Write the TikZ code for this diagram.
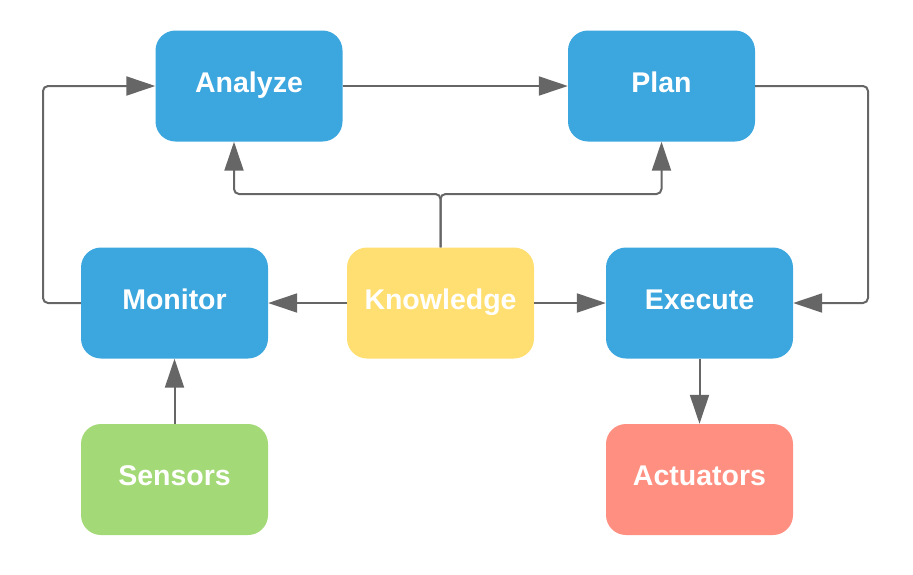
\documentclass[tikz,border=0pt]{standalone}
\usepackage{fontspec}
\setmainfont{Liberation Sans}
\usetikzlibrary{arrows.meta}
\definecolor{mapeblue}{HTML}{3CA6DE}
\definecolor{mapeyellow}{HTML}{FFDF71}
\definecolor{mapegreen}{HTML}{A3D977}
\definecolor{mapered}{HTML}{FF8F80}
\definecolor{linegray}{HTML}{666666}
\begin{document}
\begin{tikzpicture}[
    x=1pt, y=-1pt,
    box/.style={rectangle, rounded corners=20pt, fill=mapeblue, text=white, font=\fontsize{28.5}{34}\selectfont\bfseries, text height=18pt, text depth=6pt, minimum width=187pt, minimum height=111pt, inner sep=0pt},
    arrow/.style={-{Triangle[length=29pt, width=19pt]}, line width=2pt, draw=linegray, rounded corners=5pt}
]
    \useasboundingbox (0,0) rectangle (913,574);

    \node[box] (analyze) at (249,86) {Analyze};
    \node[box] (plan) at (661.5,86) {Plan};
    \node[box] (monitor) at (174.5,303) {Monitor};
    \node[box, fill=mapeyellow] (knowledge) at (440.5,303) {Knowledge};
    \node[box] (execute) at (699.5,303) {Execute};
    \node[box, fill=mapegreen] (sensors) at (174.5,479.5) {Sensors};
    \node[box, fill=mapered] (actuators) at (699.5,479.5) {Actuators};

    \draw[arrow] (monitor.west) -- (43,303) |- (analyze.west);
    \draw[arrow] (analyze) -- (plan);
    \draw[arrow] (plan.east) -- (868,86) |- (execute.east);
    \draw[arrow] (knowledge.north) -- (440.5,194) -| ([xshift=-15pt]analyze.south);
    \draw[arrow] (knowledge.north) -- (440.5,194) -| (plan.south);
    \draw[arrow] (knowledge) -- (monitor);
    \draw[arrow] (knowledge) -- (execute);
    \draw[arrow] (sensors) -- (monitor);
    \draw[arrow] (execute) -- (actuators);
\end{tikzpicture}
\end{document}
